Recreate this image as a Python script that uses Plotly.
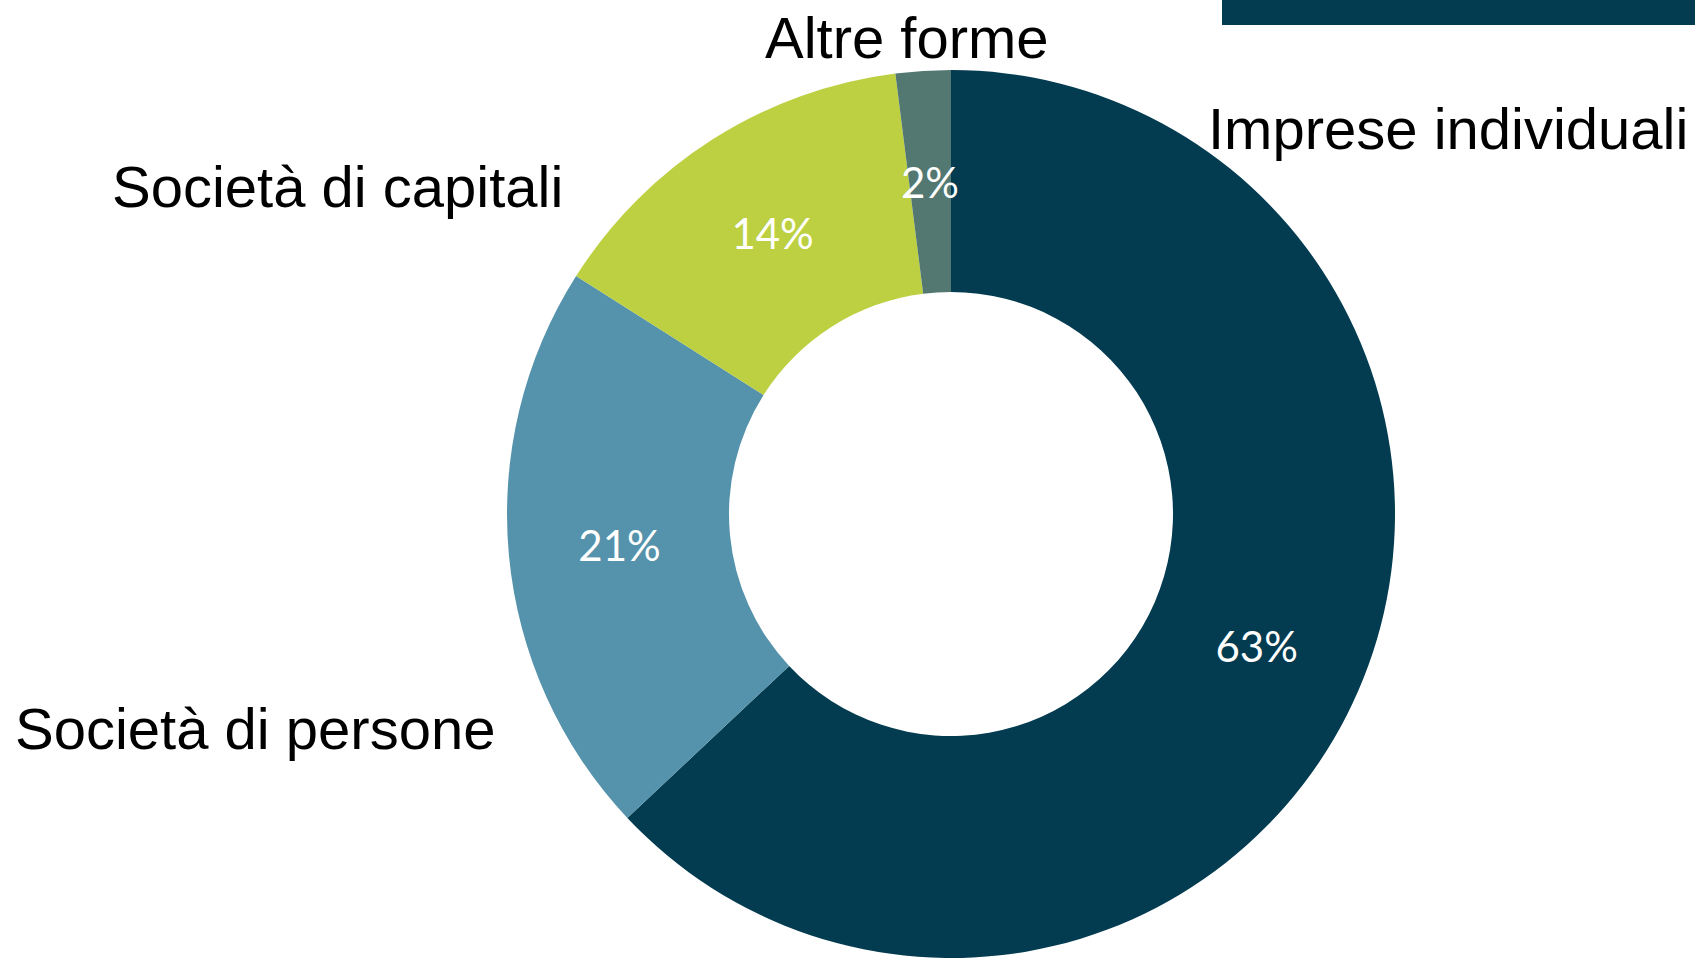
import math
import plotly.graph_objects as go

# Data
categories = ["Imprese individuali", "Società di persone", "Società di capitali", "Altre forme"]
values = [63, 21, 14, 2]
colors = ["#033B50", "#5592AB", "#BDD042", "#537872"]

# Outside category label positions (pixels) - layout only
label_pos = {
    "Imprese individuali": (1448, 128),
    "Società di persone": (255, 728),
    "Società di capitali": (337, 186),
    "Altre forme": (907, 37),
}

W, H = 1695, 958
cx, cy, r = 951, 514, 444
hole = 0.5

# small slices get their percentage placed at the ring's mid radius via annotation
small = [v / sum(values) < 0.05 for v in values]
textpos = ["none" if s else "inside" for s in small]

fig = go.Figure(go.Pie(
    labels=categories,
    values=values,
    marker=dict(colors=colors, line=dict(width=0)),
    hole=hole,
    sort=False,
    direction="clockwise",
    rotation=0,
    texttemplate="%{percent:.0%}",
    textposition=textpos,
    insidetextorientation="horizontal",
    textfont=dict(family="Lato", size=42, color="white"),
    hoverinfo="skip",
    showlegend=False,
    domain=dict(x=[(cx - r) / W, (cx + r) / W], y=[(H - cy - r) / H, (H - cy + r) / H]),
))

total = sum(values)
cum = 0
for v, s in zip(values, small):
    mid = (cum + v / 2) / total * 2 * math.pi
    cum += v
    if not s:
        continue
    rm = r * (1 + hole) / 2
    px = cx + rm * math.sin(mid)
    py = cy - rm * math.cos(mid)
    fig.add_annotation(
        x=px / W, y=1 - py / H, xref="paper", yref="paper",
        text=f"{round(v / total * 100)}%", showarrow=False,
        xanchor="center", yanchor="middle",
        font=dict(family="Lato", size=42, color="white"),
    )

for name in categories:
    x, y = label_pos[name]
    fig.add_annotation(
        x=x / W, y=1 - y / H, xref="paper", yref="paper",
        text=name, showarrow=False, xanchor="center", yanchor="middle",
        font=dict(family="Liberation Sans, Arial, sans-serif", size=58, color="black"),
    )

fig.add_shape(type="rect", xref="paper", yref="paper",
              x0=1222 / W, x1=1, y0=1 - 25 / H, y1=1,
              fillcolor="#033B50", line=dict(width=0))

fig.update_layout(
    width=W, height=H,
    margin=dict(l=0, r=0, t=0, b=0),
    paper_bgcolor="white", plot_bgcolor="white",
)

fig.write_html("out.html", config={"displayModeBar": False},
               post_script="document.body.style.margin='0';")
